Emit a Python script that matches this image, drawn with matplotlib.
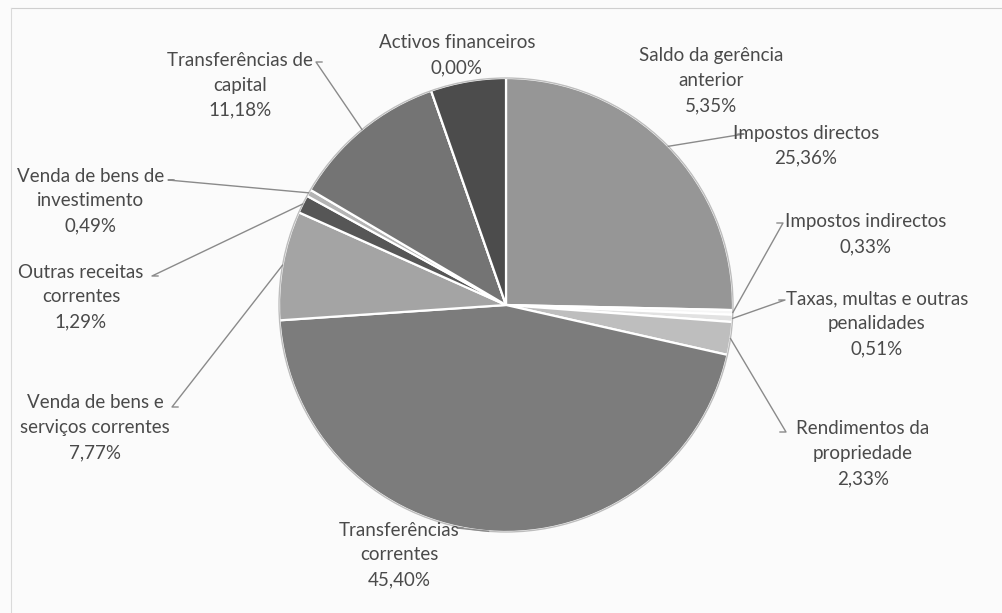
import matplotlib.pyplot as plt
import numpy as np

# categories, clockwise from 12 o'clock
categories = [
    "Impostos directos",
    "Impostos indirectos",
    "Taxas, multas e outras\npenalidades",
    "Rendimentos da\npropriedade",
    "Transferências\ncorrentes",
    "Venda de bens e\nserviços correntes",
    "Outras receitas\ncorrentes",
    "Venda de bens de\ninvestimento",
    "Transferências de\ncapital",
    "Activos financeiros",
    "Saldo da gerência\nanterior",
]
shares = [25.36, 0.33, 0.51, 2.33, 45.40, 7.77, 1.29, 0.49, 11.18, 0.00, 5.35]
pct_labels = ["25,36%", "0,33%", "0,51%", "2,33%", "45,40%", "7,77%",
              "1,29%", "0,49%", "11,18%", "0,00%", "5,35%"]

# layout (pixels from the top-left corner of the picture)
W, H = 1002, 613
CX, CY, R = 506, 305, 227
grays = [150, 246, 226, 190, 124, 164, 86, 180, 116, 250, 76]
# text centre of the first line, and where the leader line leaves the text (None = no line)
label_xy = [(806, 133), (866, 222), (877, 299), (863, 429), (399, 530),
            (95, 403), (81, 272), (91, 176), (240, 60), (457, 43), (711, 56)]
leader_from = [(738, 134), (777, 223), (779, 300), (780, 432), (463, 528),
               (178, 407), (158, 276), (174, 180), (322, 62), None, None]
LINE = 25

fig = plt.figure(figsize=(W / 100, H / 100), dpi=100)
fig.patch.set_facecolor("#fbfbfb")
ax = fig.add_axes([0, 0, 1, 1])
ax.set_xlim(0, W)
ax.set_ylim(0, H)
ax.set_aspect("equal")
ax.axis("off")

# page frame from the scan
ax.plot([11, W], [H - 8, H - 8], color="#cfcfcf", lw=0.8)
ax.plot([11, 11], [H - 8, 0], color="#dadada", lw=0.8)

colors = [(g / 255, g / 255, g / 255) for g in grays]
wedges, _ = ax.pie(shares, colors=colors, startangle=90, counterclock=False,
                   center=(CX, H - CY), radius=R,
                   wedgeprops=dict(edgecolor="white", linewidth=1.6))
ax.set_xlim(0, W)
ax.set_ylim(0, H)
ax.add_patch(plt.Circle((CX, H - CY), R, fill=False, ec="#bdbdbd", lw=1.0))

text_color = "#4a4a4a"
for w, name, pct, (lx, ly), src in zip(wedges, categories, pct_labels,
                                       label_xy, leader_from):
    lines = name.split("\n") + [pct]
    for i, s in enumerate(lines):
        ax.text(lx, H - (ly + i * LINE), s, ha="center", va="center",
                fontsize=13.5, family="Lato", color=text_color)
    if src is None:
        continue
    mid = np.deg2rad((w.theta1 + w.theta2) / 2)
    ex, ey = CX + R * np.cos(mid), (H - CY) + R * np.sin(mid)
    sx, sy = src[0], H - src[1]
    step = 6 if sx > CX else -6
    ax.plot([sx, sx + step, ex], [sy, sy, ey], color="#8a8a8a", lw=1.0)

fig.savefig("out.png", dpi=100)
